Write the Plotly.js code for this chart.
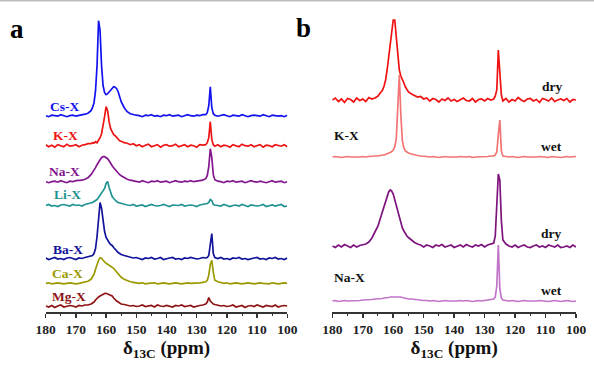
<!DOCTYPE html>
<html>
<head>
<meta charset="utf-8">
<script src="https://cdn.plot.ly/plotly-3.0.1.min.js"></script>
<style>
html,body{margin:0;padding:0;background:#fff;}
#chart{width:594px;height:368px;}
</style>
</head>
<body>
<div id="chart"></div>
<script>
// chemical shift grid (ppm), shared by every spectrum
const ppm = [180,179,178,177,176,175,174,173,172,171,170,169,168,167,166,
 165,164.5,164,163.5,163,162.5,162,161.5,161,160.5,160,159.5,159,158.5,158,157.5,157,156.5,156,155.5,155,
 154,153,152,151,150,149,148,147,146,145,144,143,142,141,140,139,138,137,136,135,134,133,132,131,130,129,128,
 127,126.5,126,125.5,125,124.5,124,
 123,122,121,120,119,118,117,116,115,114,113,112,111,110,109,108,107,106,105,104,103,102,101,100];

// panel a: intensities and stacking offsets
const namesA = ["Cs-X","K-X","Na-X","Li-X","Ba-X","Ca-X","Mg-X"];
const offsetsA = [196.3,166.3,130.3,106.5,53.5,28.7,6];
const csX = [0,-1,0.5,0,-0.5,1,0,-1,0,0.5,-0.5,0,1,1.5,2.5,
 5,8,13,25,50,95,85,50,30,23,21,22,24,26,28,29,28.5,27,24,19,14,
 8,4,2,1,0.5,0,-1,0.5,0,1,-0.5,0,-1,0.5,0,1,-0.5,0,0.5,-1,0,1,0,-0.5,0.5,0,1,
 1,3,10,29,8,2,0.5,
 -0.5,0,1,0,-1,0.5,0,-0.5,1,0,-1,0,0.5,0,-0.5,1,0,-1,0.5,0,-0.5,0,-1,0.5];
const kX = [1,-1,0.5,-1.5,1,0,-1,1.5,-0.5,0,1,-1,0.5,1,2,
 2,3,2.5,4,3,5,8,12,19,29,39,35,24,17,14,11,10,8,7,5,4.5,
 3,2.5,1,2,0,1,-1,0.5,1.5,-1,0,1,-1.5,0.5,1,-0.5,0,1.5,-1,0,1,-1,0.5,0,-1.5,1,0.5,
 1,3,8,24,6,1,-0.5,
 1,-1,0.5,0,-1.5,1,0,-1,1.5,0,-0.5,1,-1,0,1,-1.5,0.5,0,-1,1,0,-0.5,1,-1];
const naX = [0,-1,0,0.5,-0.5,1,0,-1,0.5,0,1,1,1.5,2.5,4,
 7,9,11,14,17,20,22,24,25,25,24,23,21,18,16,14,12,10,8,7,6,
 4,2.5,1.5,1,0,-0.5,1,0,-1,0.5,0,1,-0.5,0,0.5,-1,0,1,0,-0.5,0.5,0,1,0,0.5,1,1.5,
 3,6,15,33,24,7,2,
 0.5,0,-1,0.5,0,1,-0.5,0,0.5,-1,0,1,0,-0.5,0.5,0,-1,0,1,-0.5,0,0.5,-1,0];
const liX = [0,1,-0.5,0,-1,0.5,1,0,-0.5,1,0,0.5,-0.5,1,1.5,
 2,3,4,5,6,8,10,12,14,17,22,24,18,12,9,7,5,4,3,2.5,2,
 1,0.5,0,1,-0.5,0,0.5,-1,0,1,0,-0.5,0,1,0,-1,0.5,0,0,1,-0.5,0,0.5,0,-1,0.5,1,
 1,2,3,6,5,1,0.5,
 0,-0.5,1,0,-1,0,0.5,-0.5,1,0,-1,0.5,0,-0.5,0,1,-1,0,0.5,-0.5,0,1,-1,-0.5];
const baX = [0.5,-1,0,1,-0.5,0,-1,0.5,1,0,-1,0.5,0,1,1.5,
 2,3,5,10,22,42,56,50,37,27,21,18,16,14,13,11,9,8,6,5,4,
 3,2,1.5,0.5,1,0,-1,0.5,0,1,-0.5,0,1,-1,0,0.5,1,-0.5,0,-1,0.5,0,1,0,-0.5,0,1,
 0.5,1,3,12,25,5,1,
 0,1,-0.5,0,-1,0.5,0,1,-0.5,0,-1,0,0.5,1,-0.5,0,-1,0.5,0,1,-0.5,0,-1,0.5];
const caX = [0,0.5,-0.5,0,0.5,0,-0.5,0,0.5,0,-0.5,0,0.5,1,2,
 4,6,9,14,19,23,25.5,25,23,21,20,19,18,17,16,15,13,11,9,7,6,
 4,2.5,1.5,1,0.5,0,0.5,-0.5,0,0,0.5,-0.5,0,0.5,0,-0.5,0,0.5,0,-0.5,0,0.5,0,0,0.5,0.5,1,
 1.5,3,8,19,23,11,3,
 1.5,0.5,0,0.5,-0.5,0,0.5,0,-0.5,0,0.5,0,-0.5,0,0.5,0,0,-0.5,0.5,0,-0.5,0,0.5,0];
const mgX = [0,-1,0.5,-1.5,0,1,-1,-0.5,0.5,0,-1,0.5,0,1,1,
 2,3,4,6,8,9,10,11,12,12.5,12.7,12,12,11,10,8,6,5,4,3,2,
 1.5,1,0,0.5,-0.5,0,1,-0.5,0,0.5,-1,1,0,-0.5,0.5,0,-1,0.5,0,1,-0.5,0,0.5,-1,0,0.5,1,
 2,4,8.5,5,3,2,1.5,
 1,0,0.5,-0.5,0,1,-1,0,0.5,-1.5,0,0.5,-0.5,1,0,-1,0.5,0,-0.5,1,-1,0,0.5,0];
const colorsA = ["#1212f0","#ee1414","#83168d","#219393","#12129a","#9a9a00","#8e1414"];

// panel b
const namesB = ["K-X dry","K-X wet","Na-X dry","Na-X wet"];
const offsetsB = [212,155,66,11];
const kDry = [0,2,-1.5,1,-2.5,1.5,0.5,-2,2,-0.5,1,-1.5,2.5,1,2,
 4,6,8,10,14,20,30,42,55,68,80,80,62,42,30,24,21,17,13,10,8,
 6,4.5,3,3.5,1,2,-1,1.5,0.5,-2,1,-0.5,2,-1,0.5,-1.5,0,2,-0.5,-1,1.5,-2,0.5,1,-1,1.5,0,
 1,4,10,50,28,5,-1,
 1.5,-2,0.5,-1,2.5,0,-1.5,1,1.5,-1,0.5,-2.5,1.5,0.5,-1,2,-1.5,0,1,-0.5,1.5,-2,0.5,0];
const kWet = [0,0.5,0,-0.5,0,0.5,0,0,-0.5,0,0.5,0,0.5,1,1,
 1,1.5,1.5,2,2,2.5,3,3.5,4.5,5.5,7,10,18,50,82,42,16,9,6,5,4,
 3,2,1.5,1,1,0.5,0,0.5,0,-0.5,0,0.5,0,0,-0.5,0,0.5,0,0,0.5,-0.5,0,0,0.5,0,0.5,1,
 1,2,5,22,37,6,1,
 0.5,0,0.5,0,-0.5,0,0.5,0,0,-0.5,0,0.5,0,0,-0.5,0.5,0,0,-0.5,0,0.5,0,0,0.5];
const naDry = [0,-1.5,1,-1,1.5,0,-1.5,1,-1,0.5,1,2,4,8,14,
 20,25,30,35,40,45,50,54,56,55,52,46,40,33,27,22,18,15,12,10,8.5,
 6,3.5,2,1,-1,1,0,-1.5,1,0,1.5,-1,0,1,-1.5,0,1,-1,1.5,0,-1,1,0,1.5,-1,1,2,
 3,10,35,72,66,25,6,
 2,0,-1,1,-1.5,0,1,-1,-1.5,0,1,-1,0,-1.5,1,0,-1,1,-1.5,-1,0,-1.5,1,-1];
const naWet = [0,0.5,-0.5,0,0.5,0,0,0.5,0,0.5,1,1,1.5,1.5,2,
 2,2,2.5,2.5,3,3,3.5,3.5,4,4,4.5,4.5,4.5,4.3,4,4,3.5,3,3,2.5,2,
 2,1.5,1,1,0.5,0.5,0,0.5,0,-0.5,0,0.5,0,0,-0.5,0,0.5,0,0.5,0,-0.5,0,0.5,0,0.5,1,1.5,
 2,4,15,56,12,3,1,
 0.5,0,0.5,0,-0.5,0,0.5,0,0,-0.5,0,0.5,0,0,-0.5,0,0.5,0,-0.5,0,0.5,0,-0.5,0];
const colorsB = ["#f01212","#f27474","#7d137d","#c274c8"];

const seriesA = [csX,kX,naX,liX,baX,caX,mgX];
const seriesB = [kDry,kWet,naDry,naWet];

const traces = [];
seriesA.forEach((s,i)=>{
  traces.push({x:ppm, y:s.map(v=>v+offsetsA[i]), type:'scatter', mode:'lines',
    name:namesA[i], xaxis:'x', yaxis:'y', line:{color:colorsA[i], width:1.7}});
});
seriesB.forEach((s,i)=>{
  traces.push({x:ppm, y:s.map(v=>v+offsetsB[i]), type:'scatter', mode:'lines',
    name:namesB[i], xaxis:'x2', yaxis:'y2', line:{color:colorsB[i], width:1.7}});
});

const serif = "Liberation Serif";
function xax(domain, anchor){
  return {domain:domain, anchor:anchor, range:[180,100], tick0:100, dtick:10,
    ticks:'outside', ticklen:4, tickwidth:1.5, tickcolor:'#333',
    showline:true, linewidth:1.5, linecolor:'#333', showgrid:false, zeroline:false,
    minor:{dtick:5, ticks:'outside', ticklen:2.5, tickwidth:1, tickcolor:'#333', showgrid:false},
    tickfont:{family:serif, size:13.5, color:'#222', weight:'bold'},
    title:{text:'δ<sub>13C</sub> (ppm)', standoff:5, font:{family:serif, size:19, color:'#111', weight:'bold'}}};
}
const yax = (anchor)=>({range:[0,312], visible:false, domain:[0,1], anchor:anchor, fixedrange:true});

const lblA = [[173.9,206],[173.6,177],[173.8,140.5],[172.9,117.7],[172.5,63],[172.8,38.7],[172.4,15.3]];
const annotations = [];
namesA.forEach((n,i)=>annotations.push({text:n, x:lblA[i][0], y:lblA[i][1], xref:'x', yref:'y',
  showarrow:false, xanchor:'center', yanchor:'middle',
  font:{family:serif, size:13.5, color:colorsA[i], weight:'bold'}}));
const lblB = [["dry",107.7,226],["K-X",175.5,177],["wet",108.2,166],["dry",108.2,78.7],["Na-X",174.5,34.7],["wet",108,22]];
lblB.forEach(l=>annotations.push({text:l[0], x:l[1], y:l[2], xref:'x2', yref:'y2',
  showarrow:false, xanchor:'center', yanchor:'middle',
  font:{family:serif, size:13.5, color:'#111', weight:'bold'}}));
annotations.push({text:'a', x:16.5/594, y:283, xref:'paper', yref:'y', showarrow:false,
  xanchor:'center', yanchor:'middle', font:{family:serif, size:27, color:'#000', weight:'bold'}});
annotations.push({text:'b', x:303.5/594, y:284, xref:'paper', yref:'y', showarrow:false,
  xanchor:'center', yanchor:'middle', font:{family:serif, size:27, color:'#000', weight:'bold'}});

const layout = {
  width:594, height:368, margin:{l:0,r:0,t:0,b:56}, showlegend:false,
  font:{family:serif},
  paper_bgcolor:'#fff', plot_bgcolor:'rgba(0,0,0,0)', hovermode:false,
  xaxis:xax([45.7/594, 287.3/594],'y'), yaxis:yax('x'),
  xaxis2:xax([332.3/594, 576/594],'y2'), yaxis2:yax('x2'),
  annotations:annotations,
  shapes:[{type:'line', xref:'paper', yref:'paper', x0:0, x1:1, y0:1-0.8/312, y1:1-0.8/312,
    line:{color:'#bdbdbd', width:1.6}}]
};
Plotly.newPlot('chart', traces, layout, {staticPlot:true, displayModeBar:false});
</script>
</body>
</html>
